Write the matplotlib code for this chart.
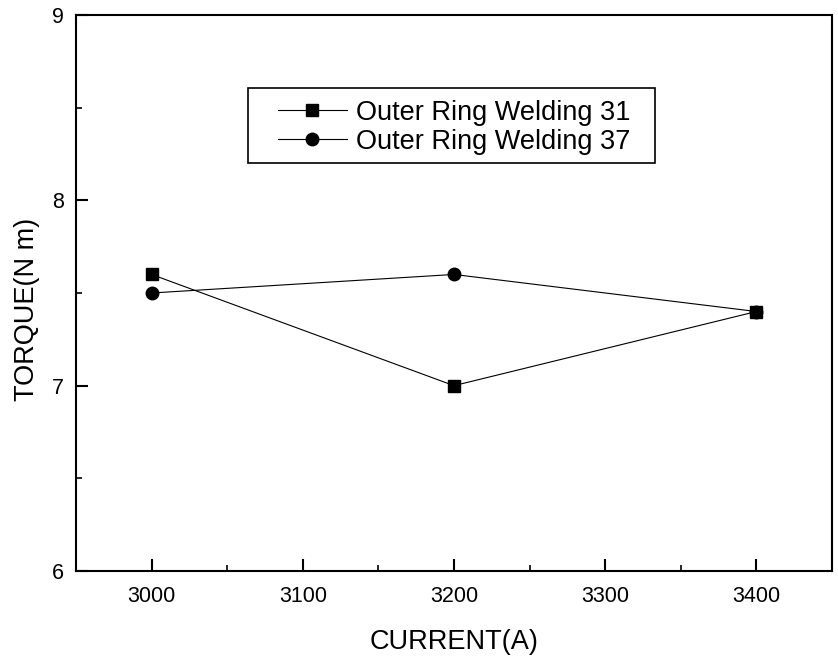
import matplotlib
matplotlib.use("Agg")
import matplotlib.pyplot as plt
from matplotlib.patches import Rectangle

current = [3000, 3200, 3400]
torque_31 = [7.6, 7.0, 7.4]
torque_37 = [7.5, 7.6, 7.4]
labels = ["Outer Ring Welding 31", "Outer Ring Welding 37"]

plt.rcParams['font.family'] = ['Liberation Sans', 'DejaVu Sans']

fig = plt.figure(figsize=(8.38, 6.57), dpi=100)
ax = fig.add_axes([0.0907, 0.1309, 0.9021, 0.8463])

ax.plot(current, torque_31, color='black', lw=0.8, marker='s', ms=8, label=labels[0])
ax.plot(current, torque_37, color='black', lw=0.8, marker='o', ms=9, label=labels[1])

ax.set_xlim(2950, 3450)
ax.set_ylim(6, 9)
ax.set_xticks([3000, 3100, 3200, 3300, 3400])
ax.set_xticks([3050, 3150, 3250, 3350], minor=True)
ax.set_yticks([6, 7, 8, 9])
ax.set_yticks([6.5, 7.5, 8.5], minor=True)
ax.tick_params(which='major', direction='in', length=8.5, width=1.5, labelsize=15.5)
ax.tick_params(which='minor', direction='in', length=4.5, width=1.2)
ax.tick_params(axis='x', which='major', pad=11)
ax.tick_params(axis='y', which='major', pad=9)
for s in ax.spines.values():
    s.set_linewidth(1.5)

ax.set_xlabel("CURRENT(A)", fontsize=19.5, labelpad=16)
ax.set_ylabel("TORQUE(N m)", fontsize=19.5, labelpad=8)
ax.yaxis.label.set_y(0.471)

leg = ax.legend(loc='center left', bbox_to_anchor=(0.267, 0.798), borderaxespad=0,
                fontsize=19.5, frameon=False, handlelength=2.55,
                handletextpad=0.33, labelspacing=0.12, borderpad=0)
ax.add_patch(Rectangle((0.2275, 0.734), 0.538, 0.135, transform=ax.transAxes,
                       fill=False, edgecolor='black', linewidth=1.2, zorder=5))

fig.savefig("out.png", dpi=100)
